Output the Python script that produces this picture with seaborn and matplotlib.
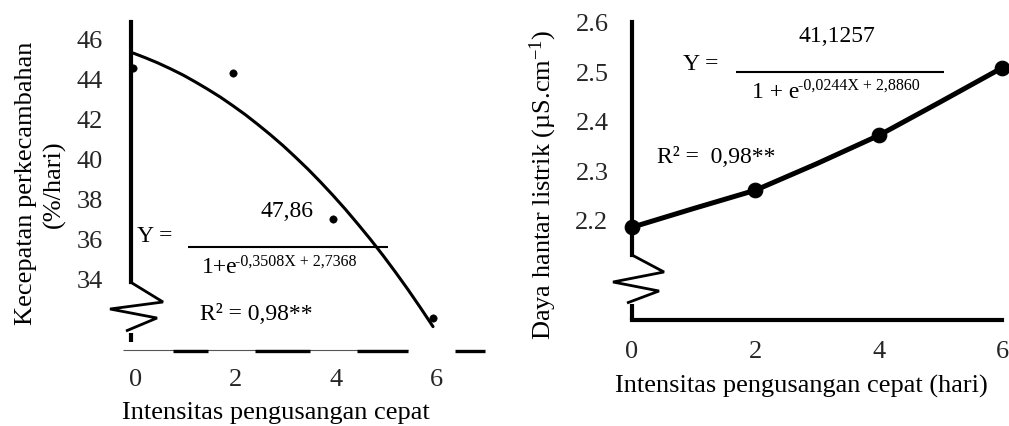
import numpy as np
import pandas as pd
import seaborn as sns
import matplotlib.pyplot as plt
from matplotlib.lines import Line2D
from matplotlib.transforms import ScaledTranslation

# left chart: kecepatan perkecambahan (%/hari)
hari = [0, 2, 4, 6]
kecepatan = [44.6, 44.35, 37.05, 32.1]
# fitted curve
kurva_x = [0, 0.25, 0.5, 0.75, 1, 1.25, 1.5, 1.75, 2, 2.25, 2.5, 2.75, 3,
           3.25, 3.5, 3.75, 4, 4.25, 4.5, 4.75, 5, 5.25, 5.5, 5.75, 6]
kurva_y = [45.35, 45.11, 44.85, 44.56, 44.25, 43.90, 43.53, 43.14, 42.71,
           42.26, 41.77, 41.26, 40.72, 40.14, 39.54, 38.90, 38.23, 37.53,
           36.79, 36.03, 35.23, 34.39, 33.52, 32.61, 31.67]

# right chart: daya hantar listrik
dhl = [2.186, 2.261, 2.372, 2.509]
dhl_kurva_x = [0, 1, 2, 3, 4, 5, 6]
dhl_kurva_y = [2.186, 2.224, 2.261, 2.315, 2.372, 2.44, 2.509]

xticks = [0, 2, 4, 6]
yticks_kiri = [34, 36, 38, 40, 42, 44, 46]
yticks_kanan = [2.2, 2.3, 2.4, 2.5, 2.6]

sns.set_style("white")
plt.rcParams['font.family'] = ['Liberation Serif', 'DejaVu Serif']
plt.rcParams['mathtext.fontset'] = 'custom'
plt.rcParams['mathtext.rm'] = 'Liberation Serif'
plt.rcParams['mathtext.it'] = 'Liberation Serif:italic'

W, H = 1009, 426
fig = plt.figure(figsize=(W / 100, H / 100), dpi=100)


def kotak(x0, y0, x1, y1):
    # pixel box (top-left origin) -> figure fraction
    return [x0 / W, 1 - y1 / H, (x1 - x0) / W, (y1 - y0) / H]


def garis(xs, ys, lw, color='black'):
    fig.add_artist(Line2D([x / W for x in xs], [1 - y / H for y in ys], lw=lw,
                          color=color, transform=fig.transFigure,
                          solid_capstyle='butt', solid_joinstyle='miter'))


def tulis(x, y, s, size=17, **kw):
    fig.text(x / W, 1 - y / H, s, fontsize=size, color='black', **kw)


ax1 = fig.add_axes(kotak(123, 22, 485, 350))
ax2 = fig.add_axes(kotak(632, 22, 1002, 320))

# ---- left panel
sns.lineplot(x=kurva_x, y=kurva_y, ax=ax1, color='black', lw=2.2)
ax1.lines[-1].set_solid_joinstyle('round')
sns.scatterplot(x=hari, y=kecepatan, ax=ax1, color='black', s=28, edgecolor='black', zorder=3)
ax1.set_xlim(-0.2, 7.04)
ax1.set_ylim(30.5, 46.9)
for s in ['top', 'right', 'bottom']:
    ax1.spines[s].set_visible(False)
ax1.spines['left'].set_position(('data', -0.04))
ax1.spines['left'].set_bounds(33.9, 46.9)
ax1.spines['left'].set_linewidth(3)
ax1.spines['left'].set_color('black')
ax1.set_xticks(xticks)
ax1.set_yticks(yticks_kiri)
ax1.tick_params(axis='y', length=0, pad=20, labelsize=19)
ax1.tick_params(axis='x', length=0, pad=14, labelsize=19)
geser = ScaledTranslation(3 / 100, 0, fig.dpi_scale_trans)
for lbl in ax1.get_xticklabels():
    lbl.set_transform(lbl.get_transform() + geser)
ax1.set_xlabel('')
ax1.set_ylabel('')

# broken axis decoration, left
garis([132, 163, 110, 157, 126], [283, 302, 309, 318, 331], 2)
garis([131, 131], [333, 342], 3)
garis([123, 408], [350, 350], 0.8, color='#555555')
for a, b in [(173, 208), (255, 310), (357, 408), (455, 485)]:
    garis([a, b], [351, 351], 2.4)

# equation, left
tulis(287, 217, '47,86', ha='center', va='baseline')
tulis(137, 242, 'Y =', va='baseline')
garis([188, 388], [247, 247], 1.5)
tulis(202, 273, '1+e', va='baseline')
tulis(235, 266, '-0,3508X + 2,7368', size=11.5, va='baseline')
tulis(200, 320, 'R² = 0,98**', va='baseline')

tulis(32, 183, 'Kecepatan perkecambahan', size=19, rotation=90,
      rotation_mode='anchor', ha='center', va='baseline')
tulis(60, 184, '(%/hari)', size=19, rotation=90,
      rotation_mode='anchor', ha='center', va='baseline')
tulis(276, 419, 'Intensitas pengusangan cepat', size=19, ha='center', va='baseline')

# ---- right panel
sns.lineplot(x=dhl_kurva_x, y=dhl_kurva_y, ax=ax2, color='black', lw=3.6)
ax2.lines[-1].set_clip_on(False)
ax2.lines[-1].set_solid_joinstyle('round')
sns.scatterplot(x=hari, y=dhl, ax=ax2, color='black', s=110, edgecolor='black', zorder=3)
ax2.collections[-1].set_clip_on(False)
ax2.set_xlim(0, 6)
ax2.set_ylim(1.998, 2.602)
for s in ['top', 'right']:
    ax2.spines[s].set_visible(False)
ax2.spines['left'].set_bounds(2.129, 2.602)
for s in ['left', 'bottom']:
    ax2.spines[s].set_linewidth(3)
    ax2.spines[s].set_color('black')
ax2.set_xticks(xticks)
ax2.set_yticks(yticks_kanan)
ax2.tick_params(axis='y', length=0, pad=17, labelsize=19)
ax2.tick_params(axis='x', length=0, pad=15, labelsize=19)
ax2.set_xlabel('')
ax2.set_ylabel('')

# broken axis decoration, right
garis([632, 664, 613, 659, 627], [255, 272, 282, 291, 303], 2)
garis([632, 632], [304, 320], 3)

# equation, right
tulis(837, 42, '41,1257', ha='center', va='baseline')
tulis(683, 70, 'Y =', va='baseline')
garis([736, 944], [72, 72], 1.5)
tulis(752, 98, '1 + e', va='baseline')
tulis(798, 90, '-0,0244X + 2,8860', size=11.5, va='baseline')
tulis(657, 163, 'R² =  0,98**', va='baseline')

tulis(550, 185, r'Daya hantar listrik (µS.cm$^{\mathregular{-1}}$)', size=19, rotation=90,
      rotation_mode='anchor', ha='center', va='baseline')
tulis(801, 393, 'Intensitas pengusangan cepat (hari)', size=19, ha='center', va='baseline')

fig.savefig('out.png', dpi=100, facecolor='white')
